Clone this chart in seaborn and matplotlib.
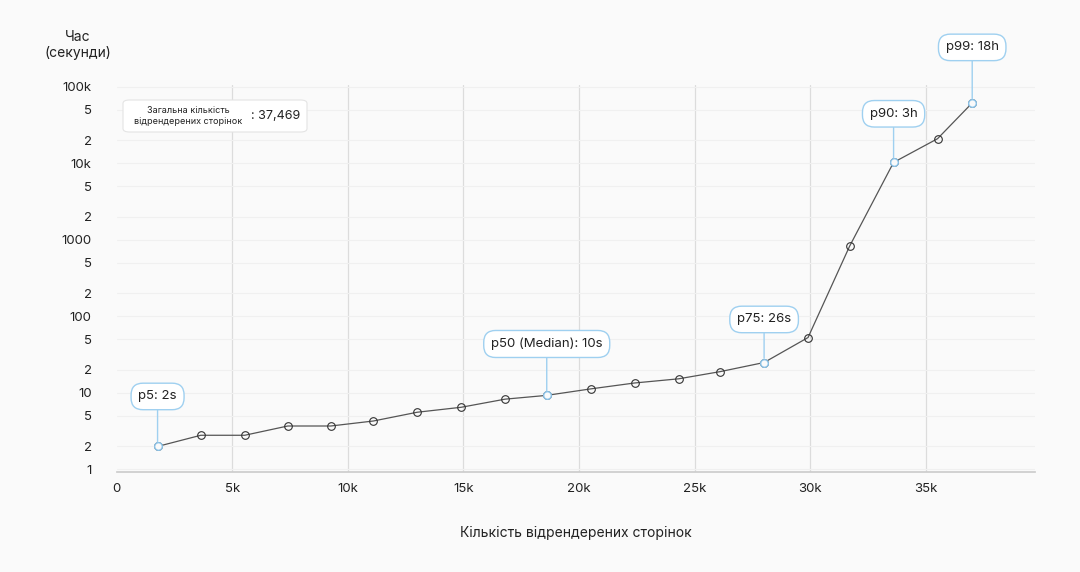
import matplotlib
matplotlib.use('Agg')
import matplotlib.pyplot as plt
from matplotlib.patches import FancyBboxPatch
import seaborn as sns
import numpy as np
import pandas as pd

pages = [1.77, 3.64, 5.54, 7.4, 9.26, 11.1, 13.0, 14.9, 16.8, 18.6, 20.5, 22.4, 24.3,
         26.1, 28.0, 29.9, 31.7, 33.6, 35.5, 37.0]
seconds = [2, 2.8, 2.8, 3.7, 3.7, 4.3, 5.6, 6.5, 8.3, 9.3, 11.3, 13.5, 15.3, 19, 25,
           53, 830, 10300, 21000, 61600]
pct_idx = [0, 9, 14, 17, 19]
pct_labels = ['p5: 2s', 'p50 (Median): 10s', 'p75: 26s', 'p90: 3h', 'p99: 18h']
label_dy = [36, 37, 31, 35, 40]

yticks = [1, 2, 5, 10, 20, 50, 100, 200, 500, 1000, 2000, 5000, 1e4, 2e4, 5e4, 1e5]
ylabels = ['1', '2', '5', '10', '2', '5', '100', '2', '5', '1000', '2', '5', '10k', '2', '5', '100k']

sns.set_theme(style='white')
plt.rcParams['font.family'] = ['Inter', 'DejaVu Sans']

df = pd.DataFrame({'pages': np.array(pages) * 1000, 'seconds': seconds})
fig = plt.figure(figsize=(10.8, 5.72), dpi=100)
fig.patch.set_facecolor('#fafafa')
ax = fig.add_axes([0.108, 0.175, 0.85, 0.676])
ax.set_facecolor('#fafafa')
ax.set_yscale('log')
ax.set_ylim(0.93, 1.05e5)
ax.set_xlim(0, 39700)

for v in [5000, 10000, 15000, 20000, 25000, 30000, 35000]:
    ax.axvline(v, color='#dcdcdc', lw=0.9, zorder=0)
for v in yticks:
    ax.axhline(v, color='#f0f0f0', lw=0.8, zorder=0)

sns.lineplot(data=df, x='pages', y='seconds', ax=ax, color='#555555', lw=0.9,
             marker='o', markersize=5.5, markerfacecolor='none', markeredgecolor='#333333',
             markeredgewidth=0.8)
hi = df.iloc[pct_idx]
ax.scatter(hi['pages'], hi['seconds'], s=30, facecolor='#fafafa', edgecolor='#8cc4ea',
           lw=1.0, zorder=5)
for (_, r), lab, dy in zip(hi.iterrows(), pct_labels, label_dy):
    ax.annotate(lab, (r['pages'], r['seconds']), xytext=(0, dy), textcoords='offset points',
                ha='center', va='center', fontsize=9.5, color='#222222',
                bbox=dict(boxstyle='round,pad=0.55,rounding_size=0.9', fc='white',
                          ec='#9fd0f0', lw=1.0),
                arrowprops=dict(arrowstyle='-', color='#9fd0f0', lw=1.0, shrinkA=0, shrinkB=3))

ax.set_yticks(yticks)
ax.set_yticklabels(ylabels)
ax.minorticks_off()
ax.set_xticks([0, 5000, 10000, 15000, 20000, 25000, 30000, 35000])
ax.set_xticklabels(['0', '5k', '10k', '15k', '20k', '25k', '30k', '35k'])
ax.tick_params(axis='both', length=0, labelsize=9.5, colors='#222222', pad=8)
ax.tick_params(axis='y', pad=18)
for s in ['top', 'right', 'left']:
    ax.spines[s].set_visible(False)
ax.spines['bottom'].set_color('#cccccc')
ax.set_xlabel('Кількість відрендерених сторінок', fontsize=10, labelpad=22, color='#222222')
ax.set_ylabel('')
fig.text(0.072, 0.922, 'Час\n(секунди)', ha='center', va='center', fontsize=10, color='#222222')

box = FancyBboxPatch((123 / 1080, 1 - 132 / 572), 184 / 1080, 32 / 572,
                     boxstyle='round,pad=0,rounding_size=0.006', transform=fig.transFigure,
                     fc='white', ec='#e4e4e4', lw=0.8)
fig.patches.append(box)
fig.text(188 / 1080, 1 - 116 / 572, 'Загальна кількість\nвідрендерених сторінок', ha='center',
         va='center', fontsize=6.5, color='#222222', linespacing=1.2)
fig.text(251 / 1080, 1 - 116 / 572, ': 37,469', ha='left', va='center', fontsize=9, color='#222222')

fig.savefig('out.png', dpi=100, facecolor=fig.get_facecolor())
